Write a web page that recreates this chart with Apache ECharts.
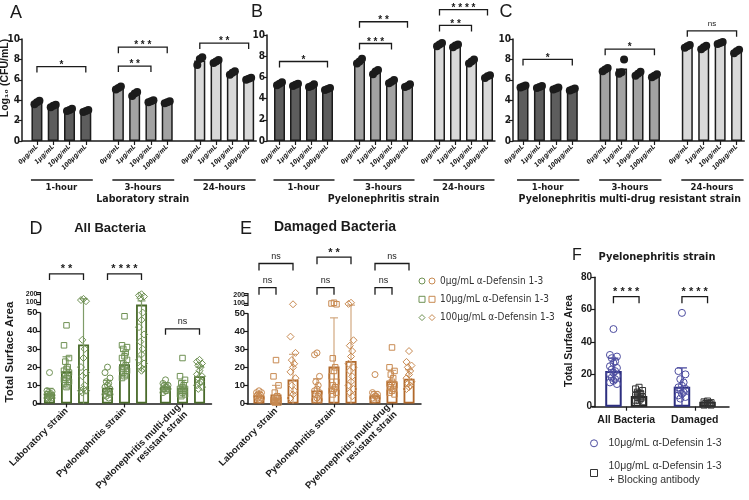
<!DOCTYPE html>
<html><head><meta charset="utf-8">
<script src="https://cdn.jsdelivr.net/npm/echarts@6/dist/echarts.min.js"></script>
<style>html,body{margin:0;padding:0;background:#fff}#c{width:749px;height:500px}</style>
</head><body><div id="c"></div>
<script>
const SANS = '"Liberation Sans", Arial, Helvetica, sans-serif';
const NARROW = '"Liberation Sans Narrow", "Arial Narrow", "DejaVu Sans Condensed", "Liberation Sans", Arial, sans-serif';
const INK = '#1b1b1b';

// ================= Panels A–C : Log10 (CFU/mL) =================
const doses = ['0μg/mL', '1μg/mL', '10μg/mL', '100μg/mL'];
const times = ['1-hour', '3-hours', '24-hours'];
const strainTitles = ['Laboratory strain', 'Pyelonephritis strain', 'Pyelonephritis multi-drug resistant strain'];

const labMeans = [3.8, 3.45, 3.05, 2.95, 5.2, 4.6, 3.9, 3.8, 7.9, 7.8, 6.7, 6.1];
const labReps = [[3.6, 3.8, 3.95], [3.3, 3.45, 3.55], [2.95, 3.05, 3.15], [2.85, 2.95, 3.05],
                 [5.05, 5.2, 5.35], [4.4, 4.65, 4.8], [3.8, 3.9, 4.0], [3.7, 3.8, 3.9],
                 [7.45, 8.05, 8.2], [7.65, 7.8, 7.95], [6.5, 6.7, 6.85], [6.0, 6.1, 6.2]];
const pyeMeans = [5.4, 5.3, 5.2, 4.9, 7.5, 6.5, 5.6, 5.2, 9.1, 9.0, 7.5, 6.1];
const pyeReps = [[5.25, 5.4, 5.55], [5.2, 5.3, 5.4], [5.1, 5.2, 5.35], [4.8, 4.9, 5.0],
                 [7.3, 7.5, 7.75], [6.3, 6.55, 6.7], [5.45, 5.6, 5.75], [5.1, 5.2, 5.35],
                 [8.95, 9.1, 9.25], [8.85, 9.0, 9.1], [7.3, 7.5, 7.7], [5.95, 6.1, 6.2]];
const mdrMeans = [5.35, 5.3, 5.15, 5.05, 7.0, 7.1, 6.6, 6.4, 9.3, 9.2, 9.6, 8.8];
const mdrReps = [[5.25, 5.35, 5.45], [5.2, 5.3, 5.4], [5.05, 5.15, 5.25], [4.95, 5.05, 5.15],
                 [6.85, 7.0, 7.15], [6.6, 6.75, 8.0], [6.4, 6.6, 6.8], [6.25, 6.4, 6.55],
                 [9.15, 9.3, 9.4], [9.0, 9.2, 9.35], [9.5, 9.6, 9.7], [8.6, 8.8, 8.95]];
// significance: [fromBar, toBar, bracket level (log10 units), label]
const labSig = [[0, 3, 7.3, '*'], [4, 6, 7.35, '**'], [4, 7, 9.2, '***'], [8, 11, 9.6, '**']];
const pyeSig = [[0, 3, 7.5, '*'], [4, 6, 9.2, '***'], [4, 7, 11.25, '**'], [8, 10, 10.9, '**'], [8, 11, 12.4, '****']];
const mdrSig = [[0, 3, 8.0, '*'], [4, 7, 9.0, '*'], [8, 11, 10.8, 'ns']];

// ================= Panels D–E : Total Surface Area =================
const strains = ['Laboratory strain', 'Pyelonephritis strain', 'Pyelonephritis multi-drug\nresistant strain'];
const defDoses = ['0μg/mL α-Defensin 1-3', '10μg/mL α-Defensin 1-3', '100μg/mL α-Defensin 1-3'];
// [dose][strain]
const allMeans = [[5.3, 8.7, 9.2], [17.7, 21.6, 8.7], [32.5, 66, 15]];
const allSD = [[3, 4, 2], [8, 7, 4], [108, 48, 5]];
const allPts = [
  [[17, 7, 6.5, 6, 5.5, 5, 5, 4.5, 4, 4, 3.5, 3, 3, 2.5], [20, 17, 14, 12, 11, 10, 9, 8, 7, 6, 6, 5, 5, 4, 3], [13, 11, 10, 10, 9, 9, 8, 8, 8, 7, 7, 6]],
  [[43, 32, 25, 23, 20, 19, 18, 17, 16, 15, 14, 13, 12, 11, 10, 9], [48, 32, 31, 30, 28, 26, 25, 24, 22, 21, 20, 19, 18, 17, 16, 15, 14], [25, 15, 13, 11, 10, 9, 8, 8, 7, 7, 6, 5, 5, 4]],
  [[140, 125, 110, 35, 30, 25, 20, 17, 15, 10, 8, 7, 7, 6], [200, 185, 170, 150, 50, 46, 42, 38, 34, 30, 27, 24, 22, 20, 19, 18], [24, 23, 22, 21, 20, 18, 16, 15, 14, 12, 11, 10, 9, 8]]
];
const dmgMeans = [[4.5, 7.2, 4.6], [5.0, 20.4, 12.3], [13.2, 23.5, 13.7]];
const dmgSD = [[1.5, 6.5, 2], [5, 27, 6], [14, 45, 5]];
const dmgPts = [
  [[7, 6, 6, 5, 5, 4, 4, 3, 3, 2, 2], [28, 27, 15, 12, 10, 8, 7, 6, 5, 4, 3, 2, 2], [16, 6, 5, 5, 4, 4, 3, 3, 2]],
  [[24, 15, 10, 6, 4, 3, 2, 2, 1.5, 1, 1, 1, 0.5, 0.5], [100, 90, 80, 25, 20, 18, 15, 12, 10, 9, 8, 7, 6, 5], [31, 20, 18, 16, 14, 12, 11, 10, 9, 8, 7, 6, 5]],
  [[80, 37, 28, 24, 22, 20, 17.5, 14, 10, 7, 5, 3], [100, 85, 35, 32, 29, 26, 22, 20, 18, 15, 12, 10, 8, 6, 4], [29, 23, 21, 20, 18, 16, 14, 12, 11, 10, 9, 8]]
];
// comparisons: [strain, doseA, doseB, label]
const allSig = [[0, 0, 2, '**'], [1, 0, 2, '****'], [2, 0, 2, 'ns']];
const dmgSig = [[0, 0, 2, 'ns'], [1, 0, 2, '**'], [2, 0, 2, 'ns'], [0, 0, 1, 'ns'], [1, 0, 1, 'ns'], [2, 0, 1, 'ns']];

// ================= Panel F =================
const fCats = ['All Bacteria', 'Damaged'];
const fGroups = ['10μg/mL α-Defensin 1-3', '10μg/mL α-Defensin 1-3\n+ Blocking antibody'];
const fMeans = [[22, 12.4], [6.6, 3.0]];
const fSD = [[8, 11.6], [3, 1]];
const fPts = [
  [[48, 32, 31, 30, 28, 27, 25, 24, 23, 22, 21, 20, 19, 18, 17, 16, 15, 14], [58, 22, 20, 17, 15, 13, 12, 11, 10, 9, 8, 7, 6, 5]],
  [[12, 11, 10, 9, 8, 8, 7, 6, 6, 5, 4, 4, 3, 2], [3.5, 3, 2.5, 2, 2, 1.5, 1, 1]]
];
const fSig = [[0, 0, 1, '****'], [1, 0, 1, '****']];

// ================= layout (positions / styles) =================
const topGeo = [
  {left: 28.8, width: 228, top: 39, height: 102, offset: 6.8},
  {left: 271.5, width: 224, top: 35, height: 106, offset: 4.5},
  {left: 514.8, width: 230, top: 39, height: 102, offset: 1.8}
];
const groupFill = ['#5d5d5d', '#a2a2a2', '#d9d9d9'];
const jit = i => [0, -2.5, 2.5, -1.2, 1.2][i % 5];

const grids = [], xAxes = [], yAxes = [], series = [], graphics = [], legends = [];

function bracketSeries(gi, items, o) {
  return {
    type: 'custom', xAxisIndex: gi, yAxisIndex: gi, clip: false, silent: true, z: 10,
    data: items.map(it => [it.c1, it.y]),
    renderItem(params, api) {
      const it = items[params.dataIndex];
      const p1 = api.coord([it.c1, it.y]), p2 = api.coord([it.c2, it.y]);
      const x1 = p1[0] + it.o1, x2 = p2[0] + it.o2, y = p1[1];
      const star = it.label !== 'ns';
      return {type: 'group', children: [
        {type: 'polyline', shape: {points: [[x1, y + o.leg], [x1, y], [x2, y], [x2, y + o.leg]]},
         style: {stroke: INK, lineWidth: 1.3, fill: 'none'}},
        {type: 'text', x: (x1 + x2) / 2, y: star ? y + o.starDy : y + o.nsDy,
         style: {text: star ? it.label.split('').join(' ') : it.label, fill: INK,
                 fontSize: star ? o.starSize : o.nsSize, fontWeight: star ? 'bold' : 'normal',
                 fontFamily: SANS, align: 'center', verticalAlign: 'bottom'}}
      ]};
    }
  };
}

// ---------- A–C ----------
const topSlots = [];
times.forEach((t, g) => { if (g) topSlots.push(''); doses.forEach(d => topSlots.push(d)); });
const topKeys = topSlots.map((_, i) => 'slot' + i);
const slotOf = b => b + Math.floor(b / 4);
const topPanels = [
  {means: labMeans, reps: labReps, sig: labSig},
  {means: pyeMeans, reps: pyeReps, sig: pyeSig},
  {means: mdrMeans, reps: mdrReps, sig: mdrSig}
];
topPanels.forEach((P, k) => {
  const geo = topGeo[k];
  const gi = grids.length;
  grids.push({left: geo.left, top: geo.top, width: geo.width, height: geo.height});
  xAxes.push({type: 'category', gridIndex: gi, data: topKeys,
    axisLine: {show: false},
    axisTick: {show: true, alignWithLabel: true, length: 4, interval: (i) => topSlots[i] !== '', lineStyle: {color: INK, width: 1.2}},
    axisLabel: {interval: (i) => topSlots[i] !== '', formatter: (v, i) => topSlots[i], rotate: 45, margin: 5,
      fontSize: 6.5, fontStyle: 'italic', fontWeight: 'bold', fontFamily: NARROW, color: INK},
    splitLine: {show: false}});
  yAxes.push({type: 'value', gridIndex: gi, min: 0, max: 10, interval: 2, offset: geo.offset,
    axisLine: {show: true, lineStyle: {color: INK, width: 1.5}},
    axisTick: {show: true, length: 4, lineStyle: {color: INK, width: 1.2}},
    axisLabel: {fontSize: 10, fontWeight: 'bold', fontFamily: NARROW, color: INK, margin: 2},
    splitLine: {show: false}});
  const barData = topSlots.map(() => '-');
  P.means.forEach((m, b) => { barData[slotOf(b)] = {value: m, itemStyle: {color: groupFill[Math.floor(b / 4)]}}; });
  series.push({type: 'bar', xAxisIndex: gi, yAxisIndex: gi, barWidth: 11, data: barData,
    itemStyle: {borderColor: INK, borderWidth: 1.5}, z: 2});
  series.push({type: 'scatter', xAxisIndex: gi, yAxisIndex: gi, symbol: 'circle', symbolSize: 8,
    itemStyle: {color: INK, opacity: 1}, z: 4,
    data: P.reps.flatMap((r, b) => r.map((v, j) => ({value: [slotOf(b), v], symbolOffset: [(j - 1) * 2.5, 0]})))});
  series.push(bracketSeries(gi, P.sig.map(s => ({c1: slotOf(s[0]), o1: 0, c2: slotOf(s[1]), o2: 0, y: s[2], label: s[3]})),
    {leg: 6, starDy: 3.5, nsDy: -3, starSize: 10, nsSize: 8}));
  // baseline + group underlines/labels
  series.push({type: 'custom', xAxisIndex: gi, yAxisIndex: gi, clip: false, silent: true, z: 5,
    data: times.map((t, g) => [g * 5, 0]),
    renderItem(params, api) {
      const g = params.dataIndex, cs = params.coordSys;
      const a = api.coord([g * 5, 0]), b = api.coord([g * 5 + 3, 0]);
      const y = a[1];
      const ch = [
        {type: 'line', shape: {x1: a[0] - 6, y1: y + 39, x2: b[0] + 7, y2: y + 39}, style: {stroke: INK, lineWidth: 1.6}},
        {type: 'text', x: (a[0] + b[0]) / 2, y: y + 47, style: {text: times[g], fill: INK, fontSize: 9.5, fontWeight: 'bold', fontFamily: NARROW, align: 'center', verticalAlign: 'middle'}}
      ];
      if (g === 0) ch.push({type: 'line', shape: {x1: cs.x - geo.offset, y1: y, x2: cs.x + cs.width, y2: y}, style: {stroke: INK, lineWidth: 1.5}});
      return {type: 'group', children: ch};
    }});
  graphics.push({type: 'text', x: geo.left + geo.width / 2, y: 199.5, silent: true, style: {text: strainTitles[k], fill: INK,
    fontSize: 10.5, fontWeight: 'bold', fontFamily: NARROW, align: 'center', verticalAlign: 'middle'}});
});

// ---------- D–E (segmented axis) ----------
const subOff = [-17, 0, 17];
function breakPanel(means, sds, pts, sigs, sigLevels, geo, col, names) {
  const gi = grids.length;
  const s = (geo.px0 - geo.px50) / 50;
  const d = v => v <= 50 ? v : (v <= 66 ? 50 + (v - 50) / 16 * 8.3 / s : 50 + (8.3 + (v - 66) * 0.08) / s);
  const top = geo.px50 - 20.6;
  grids.push({left: geo.left, top: top, width: geo.width, height: geo.px0 - top});
  const ticks = [0, 10, 20, 30, 40, 50, d(100), d(200)];
  xAxes.push({type: 'category', gridIndex: gi, data: strains,
    axisLine: {show: true, lineStyle: {color: INK, width: 1.5}},
    axisTick: {show: true, alignWithLabel: true, length: 4, lineStyle: {color: INK, width: 1.2}},
    axisLabel: {interval: 0, rotate: 45, margin: 6, fontSize: 9.5, fontFamily: SANS, color: INK, fontWeight: 'bold'},
    splitLine: {show: false}});
  yAxes.push({type: 'value', gridIndex: gi, min: 0, max: d(220), offset: geo.offset,
    axisLine: {show: false},
    axisTick: {show: true, customValues: ticks, length: 4, lineStyle: {color: INK, width: 1.2}},
    axisLabel: {customValues: ticks, margin: 3, fontSize: 9.5, fontWeight: 'bold', fontFamily: SANS, color: INK,
      formatter: v => v <= 50.01 ? String(Math.round(v)) : '{s|' + (Math.abs(v - d(100)) < 0.3 ? '100' : '200') + '}',
      rich: {s: {fontSize: 7, fontWeight: 'bold', fontFamily: SANS, color: INK, lineHeight: 7}}},
    splitLine: {show: false}});
  // axis segments
  series.push({type: 'custom', xAxisIndex: gi, yAxisIndex: gi, clip: false, silent: true, z: 6, data: [[0, 0]],
    renderItem(params, api) {
      const x = params.coordSys.x - geo.offset;
      const y0 = api.coord([0, 0])[1], y50 = api.coord([0, 50])[1], yb = api.coord([0, d(66)])[1], yt = api.coord([0, d(220)])[1];
      return {type: 'group', children: [
        {type: 'line', shape: {x1: x, y1: y0 + 0.75, x2: x, y2: y50}, style: {stroke: INK, lineWidth: 1.5}},
        {type: 'polyline', shape: {points: [[x - 4, yb], [x, yb], [x, yt], [x - 4, yt]]}, style: {stroke: INK, lineWidth: 1.2, fill: 'none'}}
      ]};
    }});
  const syms = ['circle', 'rect', 'diamond'], sizes = [6, 5.5, 7];
  means.forEach((m, k) => {
    series.push({type: 'bar', name: names[k] + 'bar', xAxisIndex: gi, yAxisIndex: gi, barWidth: 11, barGap: '55%',
      data: m.map(d), itemStyle: {color: '#fff', borderColor: col.bar, borderWidth: 1.8}, z: 2});
  });
  means.forEach((m, k) => {
    series.push({type: 'custom', xAxisIndex: gi, yAxisIndex: gi, clip: false, silent: true, z: 3,
      data: m.map((v, c) => [c, d(v)]),
      renderItem(params, api) {
        const c = params.dataIndex, mv = m[c], sd = sds[k][c];
        const x = api.coord([c, 0])[0] + subOff[k];
        const yT = api.coord([c, d(mv + sd)])[1], yL = api.coord([c, d(Math.max(0, mv - sd))])[1];
        return {type: 'group', children: [
          {type: 'line', shape: {x1: x, y1: yL, x2: x, y2: yT}, style: {stroke: col.err, lineWidth: 1.2}},
          {type: 'line', shape: {x1: x - 4, y1: yT, x2: x + 4, y2: yT}, style: {stroke: col.err, lineWidth: 1.2}}
        ]};
      }});
    series.push({type: 'scatter', name: names[k], xAxisIndex: gi, yAxisIndex: gi, symbol: syms[k], symbolSize: sizes[k], z: 4,
      itemStyle: {color: 'rgba(0,0,0,0)', borderColor: col.pt, borderWidth: 1, opacity: 1},
      data: pts[k].flatMap((arr, c) => arr.map((v, i) => ({value: [c, d(v)], symbolOffset: [subOff[k] + jit(i), 0]})))});
  });
  series.push(bracketSeries(gi, sigs.map((sg, i) => ({c1: sg[0], o1: subOff[sg[1]], c2: sg[0], o2: subOff[sg[2]], y: sigLevels[i], label: sg[3]})),
    {leg: geo.leg, starDy: 1, nsDy: -2.5, starSize: 11, nsSize: 9}));
}
breakPanel(allMeans, allSD, allPts, allSig, [71.3, 71.3, 41.1],
  {left: 37.5, width: 174, px0: 407.3, px50: 313.3, offset: -3, leg: 6},
  {bar: '#4a6b2b', pt: '#6f9154', err: '#7f9c68'}, ['D0', 'D10', 'D100']);
breakPanel(dmgMeans, dmgSD, dmgPts, dmgSig, [77.5, 81, 77.5, 64.1, 64.1, 64.1],
  {left: 247, width: 174, px0: 410, px50: 314.3, offset: -1, leg: 7},
  {bar: '#b1692b', pt: '#c88a52', err: '#d2a880'}, ['E0', 'E10', 'E100']);

const legIcons = ['circle', 'rect', 'diamond'];
legends.push({left: 418.5, top: 275, orient: 'vertical', itemWidth: 6, itemHeight: 6, itemGap: 6.3, padding: 0, selectedMode: false,
  textStyle: {fontSize: 10, lineHeight: 12}, formatter: () => ' ',
  data: ['D0', 'D10', 'D100'].map((n, i) => ({name: n, icon: legIcons[i], itemStyle: {color: 'rgba(0,0,0,0)', borderColor: '#6f9154', borderWidth: 1}}))});
legends.push({left: 428.5, top: 275, orient: 'vertical', itemWidth: 6, itemHeight: 6, itemGap: 6.3, padding: 0, selectedMode: false,
  textStyle: {fontSize: 10, lineHeight: 12, color: '#333', fontFamily: NARROW},
  formatter: n => defDoses[['E0', 'E10', 'E100'].indexOf(n)],
  data: ['E0', 'E10', 'E100'].map((n, i) => ({name: n, icon: legIcons[i], itemStyle: {color: 'rgba(0,0,0,0)', borderColor: '#c88a52', borderWidth: 1}}))});

// ---------- F ----------
(function () {
  const gi = grids.length;
  grids.push({left: 592, top: 277.3, width: 137, height: 129.4});
  xAxes.push({type: 'category', gridIndex: gi, data: fCats,
    axisLine: {show: true, lineStyle: {color: INK, width: 1.5}},
    axisTick: {show: true, alignWithLabel: true, length: 4, lineStyle: {color: INK, width: 1.2}},
    axisLabel: {interval: 0, hideOverlap: false, margin: 8, fontSize: 10.5, fontWeight: 'bold', fontFamily: SANS, color: INK},
    splitLine: {show: false}});
  yAxes.push({type: 'value', gridIndex: gi, min: 0, max: 80, interval: 20, offset: -3,
    axisLine: {show: true, lineStyle: {color: INK, width: 1.5}},
    axisTick: {show: true, length: 4, lineStyle: {color: INK, width: 1.2}},
    axisLabel: {margin: 3, fontSize: 10, fontWeight: 'bold', fontFamily: SANS, color: INK},
    splitLine: {show: false}});
  const off = [-12.8, 12.8];
  const cols = [{bar: '#2d2f80', pt: '#4d4da0', err: '#4d4da0'}, {bar: '#222', pt: '#333', err: '#333'}];
  const syms = ['circle', 'rect'], sizes = [7, 6];
  fMeans.forEach((m, k) => {
    series.push({type: 'bar', xAxisIndex: gi, yAxisIndex: gi, barWidth: 16.5, barGap: '55%', data: m,
      itemStyle: {color: '#fff', borderColor: cols[k].bar, borderWidth: 2}, z: 2});
  });
  fMeans.forEach((m, k) => {
    series.push({type: 'custom', xAxisIndex: gi, yAxisIndex: gi, clip: false, silent: true, z: 3,
      data: m.map((v, c) => [c, v]),
      renderItem(params, api) {
        const c = params.dataIndex, mv = m[c], sd = fSD[k][c];
        const x = api.coord([c, 0])[0] + off[k];
        const yT = api.coord([c, mv + sd])[1], yL = api.coord([c, Math.max(0, mv - sd)])[1];
        return {type: 'group', children: [
          {type: 'line', shape: {x1: x, y1: yL, x2: x, y2: yT}, style: {stroke: cols[k].err, lineWidth: 1.3}},
          {type: 'line', shape: {x1: x - 5, y1: yT, x2: x + 5, y2: yT}, style: {stroke: cols[k].err, lineWidth: 1.3}}
        ]};
      }});
    series.push({type: 'scatter', name: ['fDef', 'fBlock'][k], xAxisIndex: gi, yAxisIndex: gi, symbol: syms[k], symbolSize: sizes[k], z: 4,
      itemStyle: {color: 'rgba(0,0,0,0)', borderColor: cols[k].pt, borderWidth: 1, opacity: 1},
      data: fPts[k].flatMap((arr, c) => arr.map((v, i) => ({value: [c, v], symbolOffset: [off[k] + jit(i) * 1.4, 0]})))});
  });
  series.push(bracketSeries(gi, fSig.map(sg => ({c1: sg[0], o1: off[sg[1]], c2: sg[0], o2: off[sg[2]], y: 68, label: sg[3]})),
    {leg: 6.5, starDy: 1, nsDy: -2.5, starSize: 11, nsSize: 9}));
  legends.push({left: 590, top: 436.3, orient: 'vertical', itemWidth: 7, itemHeight: 7, itemGap: 8.7, padding: 0, selectedMode: false,
    textStyle: {fontSize: 10.5, lineHeight: 14, color: '#333', fontFamily: SANS, padding: [0, 0, 0, 6]},
    formatter: n => fGroups[['fDef', 'fBlock'].indexOf(n)],
    data: [{name: 'fDef', icon: 'circle', itemStyle: {color: 'rgba(0,0,0,0)', borderColor: '#4d4da0', borderWidth: 1}},
           {name: 'fBlock', icon: 'rect', itemStyle: {color: 'rgba(0,0,0,0)', borderColor: '#333', borderWidth: 1}}]});
})();

// ---------- texts ----------
const T = (text, x, y, size, weight, family, extra) => Object.assign({type: 'text', x: x, y: y, silent: true,
  style: {text: text, fill: INK, fontSize: size, fontWeight: weight, fontFamily: family, align: 'center', verticalAlign: 'middle'}}, extra || {});
graphics.push(
  T('A', 16, 13, 18, 'normal', SANS), T('B', 257, 12, 18, 'normal', SANS), T('C', 506, 12, 18, 'normal', SANS),
  T('D', 36, 229, 18, 'normal', SANS), T('E', 246, 229, 18, 'normal', SANS), T('F', 577, 256, 16, 'normal', SANS),
  T('Log₁₀ (CFU/mL)', 5, 78, 10.5, 'bold', SANS, {rotation: Math.PI / 2}),
  T('All Bacteria', 110, 228, 13, 'bold', SANS),
  T('Damaged Bacteria', 335, 227, 14, 'bold', SANS),
  T('Total Surface Area', 10, 352, 11.5, 'bold', SANS, {rotation: Math.PI / 2}),
  T('Total Surface Area', 569, 341, 10.5, 'bold', SANS, {rotation: Math.PI / 2}),
  T('Pyelonephritis strain', 657, 257, 11, 'bold', NARROW)
);

const chart = echarts.init(document.getElementById('c'));
chart.setOption({animation: false, backgroundColor: '#fff', grid: grids, xAxis: xAxes, yAxis: yAxes,
  series: series, legend: legends, graphic: graphics});
</script></body></html>
